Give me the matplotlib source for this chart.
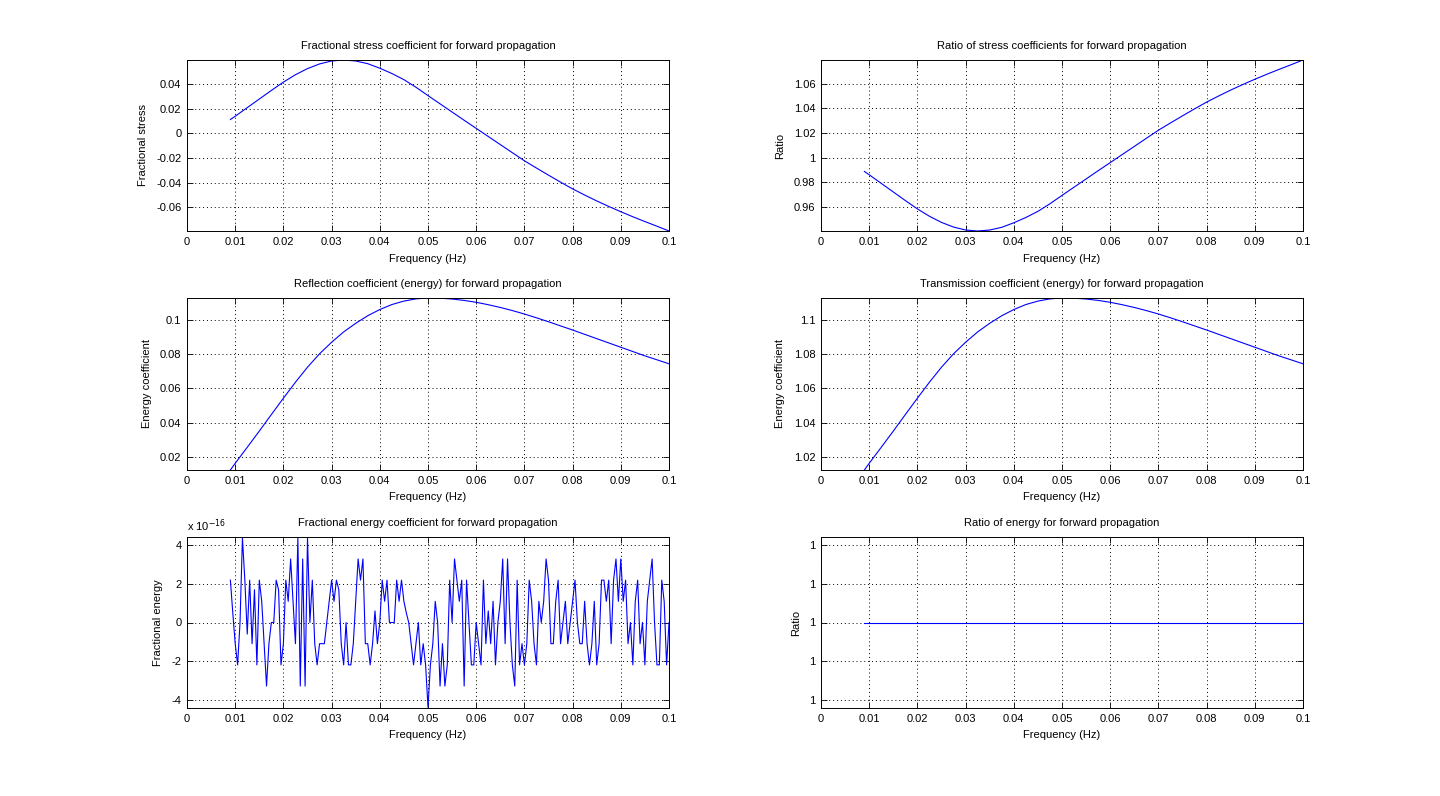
import numpy as np
import matplotlib
matplotlib.use("Agg")
import matplotlib.pyplot as plt
from matplotlib.ticker import FixedLocator, FuncFormatter, FixedFormatter

plt.rcParams['font.family'] = ['Liberation Sans', 'DejaVu Sans']
plt.rcParams['font.size'] = 8

# Frequency grid for the smooth curves (Hz)
freq = [0.009, 0.010, 0.0125, 0.015, 0.0175, 0.020, 0.0225, 0.025, 0.0275, 0.030,
        0.0325, 0.035, 0.0375, 0.040, 0.0425, 0.045, 0.0475, 0.050, 0.0525, 0.055,
        0.0575, 0.060, 0.0625, 0.065, 0.0675, 0.070, 0.0725, 0.075, 0.0775, 0.080,
        0.0825, 0.085, 0.0875, 0.090, 0.0925, 0.095, 0.0975, 0.100]

# Fractional stress coefficient
frac_stress = [0.0113, 0.0140, 0.0210, 0.0280, 0.0350, 0.0418, 0.0478, 0.0528, 0.0566, 0.0590,
               0.0598, 0.0590, 0.0568, 0.0531, 0.0488, 0.0438, 0.0376, 0.0308, 0.0241, 0.0174,
               0.0107, 0.0041, -0.0025, -0.0091, -0.0157, -0.0223, -0.0282, -0.0340, -0.0397, -0.0452,
               -0.0502, -0.0550, -0.0595, -0.0638, -0.0679, -0.0718, -0.0756, -0.0795]

# Ratio of stress coefficients
stress_ratio = [0.9887, 0.9860, 0.9790, 0.9720, 0.9650, 0.9582, 0.9522, 0.9472, 0.9434, 0.9410,
                0.9402, 0.9410, 0.9432, 0.9469, 0.9512, 0.9562, 0.9624, 0.9692, 0.9759, 0.9826,
                0.9893, 0.9959, 1.0025, 1.0091, 1.0157, 1.0223, 1.0282, 1.0340, 1.0397, 1.0452,
                1.0502, 1.0550, 1.0595, 1.0638, 1.0679, 1.0718, 1.0756, 1.0795]

# Reflection coefficient (energy)
reflection = [0.0126, 0.0165, 0.0258, 0.0352, 0.0448, 0.0543, 0.0636, 0.0723, 0.0801, 0.0868,
              0.0928, 0.0978, 0.1022, 0.1058, 0.1087, 0.1107, 0.1120, 0.1125, 0.1124, 0.1119,
              0.1111, 0.1100, 0.1086, 0.1070, 0.1052, 0.1032, 0.1010, 0.0987, 0.0963, 0.0939,
              0.0914, 0.0889, 0.0864, 0.0839, 0.0814, 0.0789, 0.0766, 0.0743]

# Transmission coefficient (energy)
transmission = [1.0126, 1.0165, 1.0258, 1.0352, 1.0448, 1.0543, 1.0636, 1.0723, 1.0801, 1.0868,
                1.0928, 1.0978, 1.1022, 1.1058, 1.1087, 1.1107, 1.1120, 1.1125, 1.1124, 1.1119,
                1.1111, 1.1100, 1.1086, 1.1070, 1.1052, 1.1032, 1.1010, 1.0987, 1.0963, 1.0939,
                1.0914, 1.0889, 1.0864, 1.0839, 1.0814, 1.0789, 1.0766, 1.0743]

# Ratio of energy (all exactly one)
energy_ratio = [1.0] * len(freq)

# Fractional energy, round-off noise in units of 1e-16 (every 0.0005 Hz from 0.009)
frac_energy = [2.2, 0.5, -1.1, -2.2, 0.0, 4.4, 2.2, -0.6, 2.2, -1.1,
               1.7, -2.2, 2.2, 1.1, -1.1, -3.3, -1.1, 0.0, 0.0, 2.2,
               1.7, -2.2, -1.1, 2.2, 1.1, 3.3, 1.1, -1.1, 4.4, -3.3,
               3.3, -3.3, 4.4, 0.0, 2.2, -1.1, -2.2, -1.1, -1.1, -1.1,
               0.0, 1.1, 2.2, 1.1, 2.2, 1.7, -1.1, -2.2, 0.0, -2.2,
               -2.2, -1.1, 1.1, 3.3, 2.2, 3.3, -1.1, -1.1, -2.2, -1.1,
               0.6, -1.1, 0.0, 2.2, 1.1, 2.2, 0.0, 0.0, 0.0, 2.2,
               1.1, 2.2, 1.1, 0.5, 0.0, -1.1, -2.2, -1.1, 0.0, -2.2,
               -1.1, -2.2, -4.4, -2.2, -1.1, 1.1, 0.0, -3.3, -1.1, -3.3,
               -2.2, 2.2, 0.0, 3.3, 2.2, 1.1, 2.2, -3.3, 2.2, 0.0,
               -2.2, -2.2, 0.0, -1.1, -2.2, 2.2, -1.1, 0.6, -1.1, 1.1,
               -2.2, 0.0, 1.1, 3.3, -1.1, 3.3, 0.0, -2.2, -3.3, 2.2,
               -2.2, -1.1, -2.2, -1.1, 2.2, 1.1, -1.1, -2.2, 1.1, 0.0,
               1.1, 3.3, 2.2, -1.1, -1.1, 1.1, 2.2, -1.1, 0.0, 1.1,
               -1.1, 0.0, 1.1, 2.2, 0.0, -1.1, -1.1, 1.1, -1.1, -2.2,
               -1.1, 1.1, -2.2, -1.1, 2.2, 2.2, 1.1, 2.2, -1.1, 2.2,
               3.3, 1.1, 3.3, 1.1, 2.2, -1.1, 0.0, -2.2, 1.1, 2.2,
               -1.1, 0.0, -2.2, 1.1, 2.2, 3.3, 0.0, -2.2, -2.2, 2.2,
               1.1, -2.2, 0.0]
freq_noise = np.linspace(0.009, 0.1, len(frac_energy))

x_ticks = [0, 0.01, 0.02, 0.03, 0.04, 0.05, 0.06, 0.07, 0.08, 0.09, 0.1]

fmt = FuncFormatter(lambda v, p: f"{round(v, 10):g}")


def style_axes(ax, title, ylabel, yticks):
    ax.set_xlim(0, 0.1)
    ax.xaxis.set_major_locator(FixedLocator(x_ticks))
    ax.xaxis.set_major_formatter(fmt)
    ax.yaxis.set_major_locator(FixedLocator(yticks))
    ax.yaxis.set_major_formatter(fmt)
    ax.grid(True, color='k', linestyle=(0, (1, 3)), linewidth=0.7)
    ax.tick_params(direction='in', top=True, right=True, length=4, width=0.6,
                   labelsize=8, pad=4)
    for s in ax.spines.values():
        s.set_linewidth(0.7)
    ax.set_title(title, fontsize=8, pad=8)
    ax.set_xlabel('Frequency (Hz)', fontsize=8, labelpad=5)
    ax.set_ylabel(ylabel, fontsize=8, labelpad=6)


fig = plt.figure(figsize=(14.4, 7.96), dpi=100)
W, H = 1440, 796
cols = [187, 821]
rows = [(60, 231), (298, 470), (537, 708)]


def make_ax(r, c):
    top, bot = rows[r]
    return fig.add_axes([cols[c] / W, 1 - bot / H, 482 / W, (bot - top) / H])


line_kw = dict(color='b', linewidth=0.8)

ax = make_ax(0, 0)
ax.plot(freq, frac_stress, **line_kw)
ax.set_ylim(min(frac_stress), max(frac_stress))
style_axes(ax, 'Fractional stress coefficient for forward propagation', 'Fractional stress',
           [-0.06, -0.04, -0.02, 0, 0.02, 0.04])

ax = make_ax(0, 1)
ax.plot(freq, stress_ratio, **line_kw)
ax.set_ylim(min(stress_ratio), max(stress_ratio))
style_axes(ax, 'Ratio of stress coefficients for forward propagation', 'Ratio',
           [0.96, 0.98, 1.0, 1.02, 1.04, 1.06])

ax = make_ax(1, 0)
ax.plot(freq, reflection, **line_kw)
ax.set_ylim(min(reflection), max(reflection))
style_axes(ax, 'Reflection coefficient (energy) for forward propagation', 'Energy coefficient',
           [0.02, 0.04, 0.06, 0.08, 0.1])

ax = make_ax(1, 1)
ax.plot(freq, transmission, **line_kw)
ax.set_ylim(min(transmission), max(transmission))
style_axes(ax, 'Transmission coefficient (energy) for forward propagation', 'Energy coefficient',
           [1.02, 1.04, 1.06, 1.08, 1.1])

ax = make_ax(2, 0)
ax.plot(freq_noise, frac_energy, **line_kw)
ax.set_ylim(-4.44, 4.44)
style_axes(ax, 'Fractional energy coefficient for forward propagation', 'Fractional energy',
           [-4, -2, 0, 2, 4])
ax.text(0.0, 1.015, r'x 10$^{-16}$', transform=ax.transAxes, fontsize=8,
        ha='left', va='bottom')

ax = make_ax(2, 1)
ax.plot(freq, energy_ratio, **line_kw)
d = 1e-6
ax.set_ylim(1 - 2.2 * d, 1 + 2.2 * d)
style_axes(ax, 'Ratio of energy for forward propagation', 'Ratio',
           [1 - 2 * d, 1 - d, 1, 1 + d, 1 + 2 * d])
ax.yaxis.set_major_formatter(FixedFormatter(['1'] * 5))

fig.savefig('out.png', dpi=100, facecolor='white')
